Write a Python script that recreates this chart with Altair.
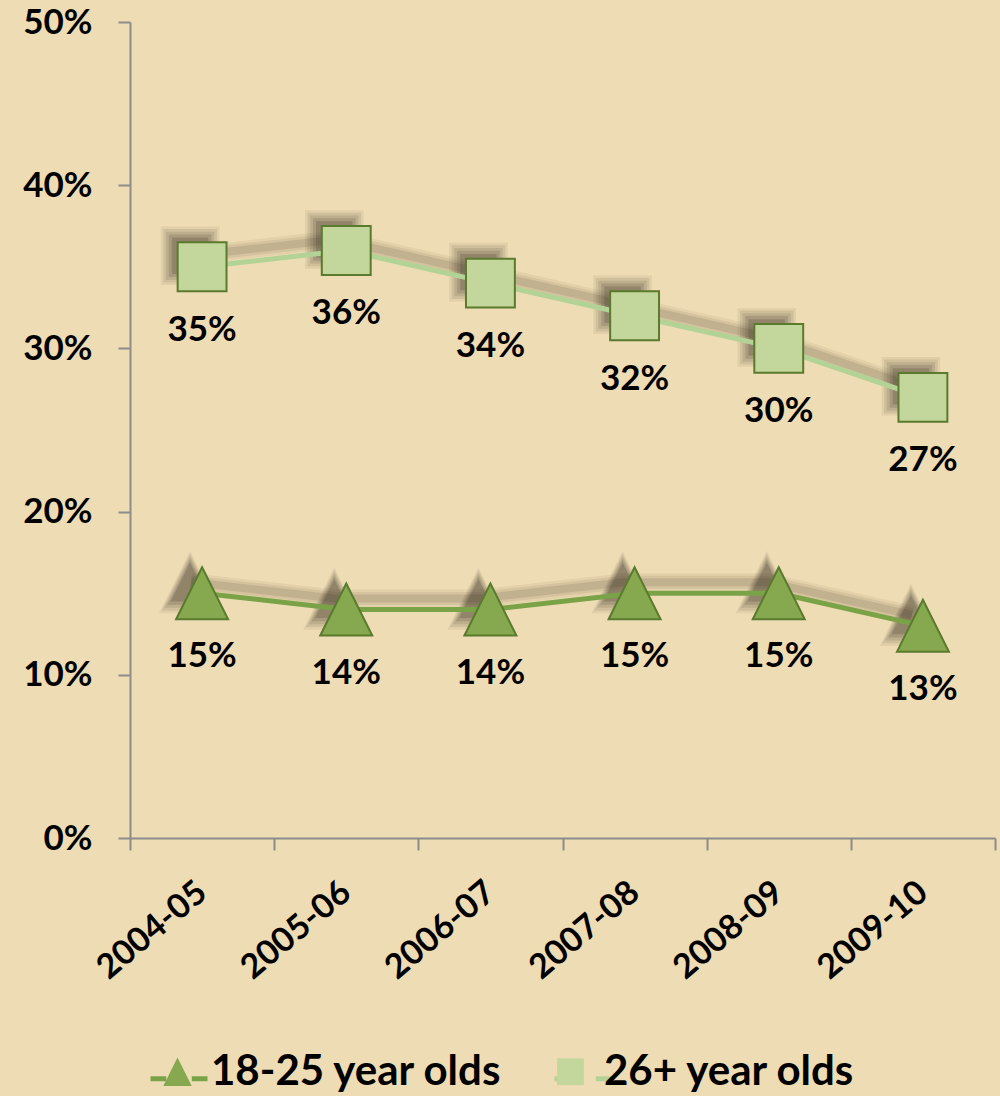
import altair as alt
import pandas as pd

periods = ["2004-05", "2005-06", "2006-07", "2007-08", "2008-09", "2009-10"]
series_names = ["18-25 year olds", "26+ year olds"]
young = [0.15, 0.14, 0.14, 0.15, 0.15, 0.13]
older = [0.35, 0.36, 0.34, 0.32, 0.30, 0.27]
y_ticks = [0, 0.1, 0.2, 0.3, 0.4, 0.5]

line_colors = ["#7aa348", "#b3d396"]
fill_colors = ["#86a94f", "#c3d69b"]
outline = "#5a7a2e"
TRI = "M-0.5,0.5L0,-0.5L0.5,0.5Z"
SQ = "M-0.47,-0.47H0.47V0.47H-0.47Z"
shapes = [TRI, SQ]
# legend symbols: same marker, plus zero-length anchors so bounds span [-1, 1]
ANCH = "M-1,0.2L-1,0.2M1,0.2L1,0.2"
LEG_TRI = "M-0.5,0.5L0,-0.5L0.5,0.5Z" + ANCH
LEG_SQ = "M-0.45,-0.45H0.45V0.45H-0.45Z" + ANCH
FONT = "Lato"

rows = []
for name, vals in zip(series_names, [young, older]):
    for p, v in zip(periods, vals):
        rows.append({"period": p, "series": name, "series2": name, "value": v})
df = pd.DataFrame(rows)

x_enc = alt.X(
    "period:N",
    sort=periods,
    bandPosition=0.5,
    scale=alt.Scale(type="band", paddingInner=0, paddingOuter=0),
    axis=alt.Axis(
        title=None, labelAngle=-40, labelAlign="right", labelBaseline="middle",
        labelFontSize=34, labelFont=FONT, labelFontWeight="bold", labelColor="black",
        labelPadding=38, tickBand="extent", tickSize=12, tickColor="#8c8c8c",
        tickWidth=2, domainColor="#8c8c8c", domainWidth=2, grid=False,
    ),
)
y_enc = alt.Y(
    "value:Q",
    scale=alt.Scale(domain=[0, 0.5], nice=False),
    axis=alt.Axis(
        title=None, values=y_ticks, format=".0%", labelFontSize=35, labelFont=FONT,
        labelFontWeight="bold", labelColor="black", labelPadding=26, tickSize=12,
        tickColor="#8c8c8c", tickWidth=2, domainColor="#8c8c8c", domainWidth=2,
        grid=False,
    ),
)

base = alt.Chart(df)

shadow_col = "#2e2418"
layers = []
# line shadows (soft)
for sw, op in [(18, 0.06), (13, 0.08), (8, 0.11)]:
    layers.append(
        base.mark_line(color=shadow_col, strokeWidth=sw, opacity=op, xOffset=-11, yOffset=-11)
        .encode(x=x_enc, y=y_enc, detail="series:N")
    )
# marker shadows (soft)
for name, shp in zip(series_names, shapes):
    for sz, op in [(15500, 0.07), (13000, 0.09), (10500, 0.11), (8200, 0.14), (6000, 0.18)]:
        layers.append(
            base.transform_filter(alt.datum.series == name)
            .mark_point(filled=True, shape=shp, size=sz, color=shadow_col, opacity=op,
                        xOffset=-12, yOffset=-11)
            .encode(x=x_enc, y=y_enc)
        )

legend_common = dict(
    title=None, orient="none", legendX=18, legendY=1020, direction="horizontal",
    symbolSize=3249, labelFontSize=42, labelFont=FONT, labelFontWeight="bold",
    labelColor="black", labelOffset=4, columnPadding=38, padding=0, labelLimit=600,
)

lines = base.mark_line(strokeWidth=5).encode(
    x=x_enc, y=y_enc,
    stroke=alt.Stroke(
        "series:N",
        scale=alt.Scale(range=line_colors),
        legend=alt.Legend(symbolType="M-1,0.2H-0.45M0.45,0.2H1", symbolStrokeWidth=5,
                          symbolOpacity=1, labelOpacity=0, **legend_common),
    ),
)

mk_legend = alt.Legend(symbolStrokeColor=outline, symbolStrokeWidth=1.5,
                       symbolOpacity=1, **legend_common)

points = base.mark_point(filled=True, size=10816, stroke=outline, strokeWidth=2, opacity=1).encode(
    x=x_enc, y=y_enc,
    fill=alt.Fill(
        "series2:N",
        scale=alt.Scale(domain=series_names, range=fill_colors),
        legend=mk_legend,
    ),
    shape=alt.Shape(
        "series2:N",
        scale=alt.Scale(domain=series_names, range=shapes),
        legend=mk_legend,
    ),
)

labels = base.mark_text(
    dy=63, fontSize=35, font=FONT, fontWeight="bold", color="black", baseline="middle"
).encode(x=x_enc, y=y_enc, text=alt.Text("value:Q", format=".0%"))

chart = (
    alt.layer(*layers, lines, points, labels)
    .properties(
        width=865, height=816,
        autosize=alt.AutoSizeParams(type="none"),
        padding={"left": 130, "top": 22, "right": 5, "bottom": 258},
        background="#eedcb4",
    )
    .configure_view(stroke=None)
)

chart.save("out.html", embed_options={"renderer": "svg", "actions": False})
